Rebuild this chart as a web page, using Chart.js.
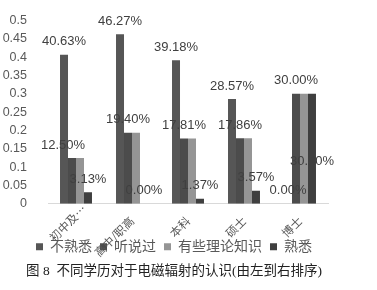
<!DOCTYPE html>
<html lang="zh">
<head>
    <meta charset="UTF-8">
    <script src="https://cdn.jsdelivr.net/npm/chart.js"></script>
    <style>
        html, body { margin: 0; padding: 0; background: #fff; }
        #box { width: 377px; height: 290px; }
    </style>
</head>
<body>
    <div id="box"><canvas id="eduChart"></canvas></div>
    <script>
        // dati
        const categories = ['初中及…', '高中/职高', '本科', '硕士', '博士'];
        const seriesNames = ['不熟悉', '听说过', '有些理论知识', '熟悉'];
        const buShuXi = [0.4063, 0.4627, 0.3918, 0.2857, 0];
        const tingShuoGuo = [0.125, 0.194, 0.1781, 0.1786, 0.30];
        const youXieLiLun = [0.125, 0.194, 0.1781, 0.1786, 0.30];
        const shuXi = [0.0313, 0, 0.0137, 0.0357, 0.30];
        const yTicks = ['0', '0.05', '0.1', '0.15', '0.2', '0.25', '0.3', '0.35', '0.4', '0.45', '0.5'];
        const caption = '图 8  不同学历对于电磁辐射的认识(由左到右排序)';

        const colors = ['#565656', '#4c4c4c', '#959595', '#3f3f3f'];
        const labeledSeries = [0, 1, 3];
        // spostamenti manuali delle etichette (come nell'originale)
        const labelShift = { '1-0': [-9, 0], '3-4': [0, 81] };
        const catNudge = { 0: [8, -12] };

        const sansCJK = "'Liberation Sans', 'Noto Sans CJK SC', sans-serif";

        const valueLabels = {
            id: 'valueLabels',
            afterDatasetsDraw(chart) {
                const ctx = chart.ctx;
                ctx.save();
                ctx.font = "13px 'Liberation Sans', Arial, sans-serif";
                ctx.fillStyle = '#404040';
                ctx.textAlign = 'center';
                ctx.textBaseline = 'middle';
                labeledSeries.forEach(di => {
                    const meta = chart.getDatasetMeta(di);
                    meta.data.forEach((bar, i) => {
                        const v = chart.data.datasets[di].data[i];
                        const s = labelShift[di + '-' + i] || [0, 0];
                        ctx.fillText((v * 100).toFixed(2) + '%', bar.x + s[0], bar.y - 13 + s[1]);
                    });
                });
                ctx.restore();
            }
        };

        // etichette asse x ruotate, libere di sovrapporsi alla legenda
        const catLabels = {
            id: 'catLabels',
            afterDraw(chart) {
                const ctx = chart.ctx;
                const xs = chart.scales.x;
                ctx.save();
                ctx.font = "11.5px 'Noto Sans CJK SC', sans-serif";
                ctx.fillStyle = '#595959';
                ctx.textAlign = 'right';
                ctx.textBaseline = 'middle';
                categories.forEach((c, i) => {
                    const n = catNudge[i] || [0, 0];
                    ctx.save();
                    ctx.translate(xs.getPixelForTick(i) + n[0], xs.top + 15 + n[1]);
                    ctx.rotate(-Math.PI / 4);
                    ctx.fillText(c, 0, 0);
                    ctx.restore();
                });
                ctx.restore();
            }
        };

        const allSeries = [buShuXi, tingShuoGuo, youXieLiLun, shuXi];

        new Chart(document.getElementById('eduChart'), {
            type: 'bar',
            data: {
                labels: categories,
                datasets: allSeries.map((d, i) => ({
                    label: seriesNames[i],
                    data: d,
                    backgroundColor: colors[i],
                    borderWidth: 0,
                    categoryPercentage: 0.571,
                    barPercentage: 1
                }))
            },
            options: {
                responsive: true,
                maintainAspectRatio: false,
                animation: false,
                layout: { padding: { top: 14, right: 29, left: 0, bottom: 0 } },
                scales: {
                    x: {
                        grid: { display: false },
                        border: { display: true, color: '#d9d9d9', width: 1 },
                        ticks: { display: false },
                        afterFit(scale) { scale.height = 28; }
                    },
                    y: {
                        min: 0,
                        max: 0.5,
                        grid: { display: false },
                        border: { display: false },
                        ticks: {
                            stepSize: 0.05,
                            autoSkip: false,
                            color: '#595959',
                            padding: 13,
                            font: { family: "'Liberation Sans', Arial, sans-serif", size: 12.5 },
                            callback: v => yTicks[Math.round(v / 0.05)]
                        },
                        afterFit(scale) { scale.width = 48; }
                    },
                    // asse vuoto a destra, serve solo a centrare legenda e didascalia
                    yRight: {
                        position: 'right',
                        grid: { display: false },
                        border: { display: false },
                        ticks: { display: false },
                        afterFit(scale) { scale.width = 20; }
                    }
                },
                plugins: {
                    legend: {
                        position: 'bottom',
                        labels: {
                            boxWidth: 7,
                            boxHeight: 7,
                            padding: 8,
                            color: '#595959',
                            font: { family: sansCJK, size: 14 }
                        }
                    },
                    title: {
                        display: true,
                        position: 'bottom',
                        text: caption,
                        color: '#222',
                        font: { family: "'Liberation Serif', 'Noto Sans CJK SC', serif", size: 13.5, weight: 'normal' },
                        padding: { top: 0, bottom: 10 }
                    },
                    tooltip: { enabled: false }
                }
            },
            plugins: [valueLabels, catLabels]
        });
    </script>
</body>
</html>
